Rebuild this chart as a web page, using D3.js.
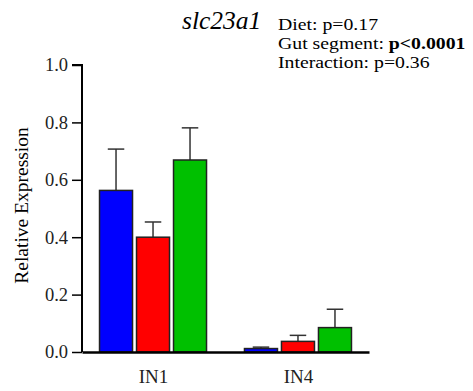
<!DOCTYPE html>
<html>
<head>
<meta charset="utf-8">
<script src="https://cdn.jsdelivr.net/npm/d3@7"></script>
<style>
  body { margin: 0; background: #fff; }
</style>
</head>
<body>
<svg width="473" height="391"></svg>
<script>
// Chart data
const segments = ["IN1", "IN4"];
const groups = ["g1", "g2", "g3"];
const colors = ["#0000ff", "#ff0000", "#00c000"];
const meanIN1 = [0.563, 0.400, 0.669];
const errIN1 = [0.144, 0.053, 0.112];
const meanIN4 = [0.012, 0.037, 0.085];
const errIN4 = [0.005, 0.021, 0.064];
const yTicks = [0.0, 0.2, 0.4, 0.6, 0.8, 1.0];
const statLines = [
  { label: "Diet: ", value: "p=0.17", bold: false },
  { label: "Gut segment: ", value: "p<0.0001", bold: true },
  { label: "Interaction: ", value: "p=0.36", bold: false }
];

const means = { IN1: meanIN1, IN4: meanIN4 };
const errs = { IN1: errIN1, IN4: errIN4 };
const serif = "'Liberation Serif', 'Times New Roman', Times, 'DejaVu Serif', serif";

let svg = d3.select("svg");

// Scales
let x = d3.scalePoint().domain(segments).range([82, 369]).padding(0.49);
let xSub = d3.scaleBand().domain(d3.range(groups.length)).range([-53.5, 53.5]).paddingInner(0.108).paddingOuter(0);
let y = d3.scaleLinear().domain([0, 1]).range([352, 65]);

// Y axis
let yAxis = d3.axisLeft(y).tickValues(yTicks).tickFormat(d3.format(".1f")).tickSize(10).tickPadding(4);
let gy = svg.append("g").attr("transform", "translate(82,0)").call(yAxis);
gy.attr("font-family", null);
gy.select(".domain").attr("stroke", "#000").attr("stroke-width", 2).attr("d", "M-10," + y(1) + "H0V" + y(0));
gy.selectAll(".tick line").attr("stroke", "#000").attr("stroke-width", 1.5);
gy.selectAll(".tick text").style("font-family", serif).style("font-size", "18.5px").attr("fill", "#222");

// Y label
svg.append("text")
  .attr("transform", "translate(28," + (y(0) + y(1) - 6) / 2 + ") rotate(-90)")
  .attr("text-anchor", "middle")
  .style("font-family", serif)
  .style("font-size", "19.5px")
  .text("Relative Expression");

// Bars
segments.forEach(seg => {
  let g = svg.append("g").attr("transform", "translate(" + x(seg) + ",0)");
  let rows = groups.map((k, i) => ({ i: i, v: means[seg][i], e: errs[seg][i] }));

  // error bars (upper only)
  g.selectAll("line.err").data(rows).enter().append("line")
    .attr("class", "err")
    .attr("x1", d => xSub(d.i) + xSub.bandwidth() / 2)
    .attr("x2", d => xSub(d.i) + xSub.bandwidth() / 2)
    .attr("y1", d => y(d.v))
    .attr("y2", d => y(d.v + d.e))
    .attr("stroke", "#333").attr("stroke-width", 1.5);
  g.selectAll("line.cap").data(rows).enter().append("line")
    .attr("class", "cap")
    .attr("x1", d => xSub(d.i) + xSub.bandwidth() / 4)
    .attr("x2", d => xSub(d.i) + xSub.bandwidth() * 3 / 4)
    .attr("y1", d => y(d.v + d.e))
    .attr("y2", d => y(d.v + d.e))
    .attr("stroke", "#333").attr("stroke-width", 1.5);

  g.selectAll("rect").data(rows).enter().append("rect")
    .attr("x", d => xSub(d.i))
    .attr("width", xSub.bandwidth())
    .attr("y", d => y(d.v))
    .attr("height", d => y(0) - y(d.v))
    .attr("fill", d => colors[d.i])
    .attr("stroke", "#222").attr("stroke-width", 1.5);
});

// X axis
let xAxis = d3.axisBottom(x).tickSize(0).tickPadding(18);
let gx = svg.append("g").attr("transform", "translate(0," + y(0) + ")").call(xAxis);
gx.attr("font-family", null);
gx.select(".domain").attr("stroke", "#000").attr("stroke-width", 2.5);
gx.selectAll(".tick text").style("font-family", serif).style("font-size", "19px").attr("fill", "#222");

// Title
svg.append("text")
  .attr("x", 182).attr("y", 29)
  .style("font-family", serif)
  .style("font-size", "25.5px").style("font-style", "italic")
  .text("slc23a1");

// Stats (slightly wide type in the original)
let stats = svg.append("text").attr("transform", "translate(278,0) scale(1.13,1)")
  .style("font-family", serif).style("font-size", "17.5px");
statLines.forEach((s, i) => {
  stats.append("tspan").attr("x", 0).attr("y", 30.5 + i * 18.7).text(s.label);
  stats.append("tspan").style("font-weight", s.bold ? "bold" : "normal").text(s.value);
});
</script>
</body>
</html>
